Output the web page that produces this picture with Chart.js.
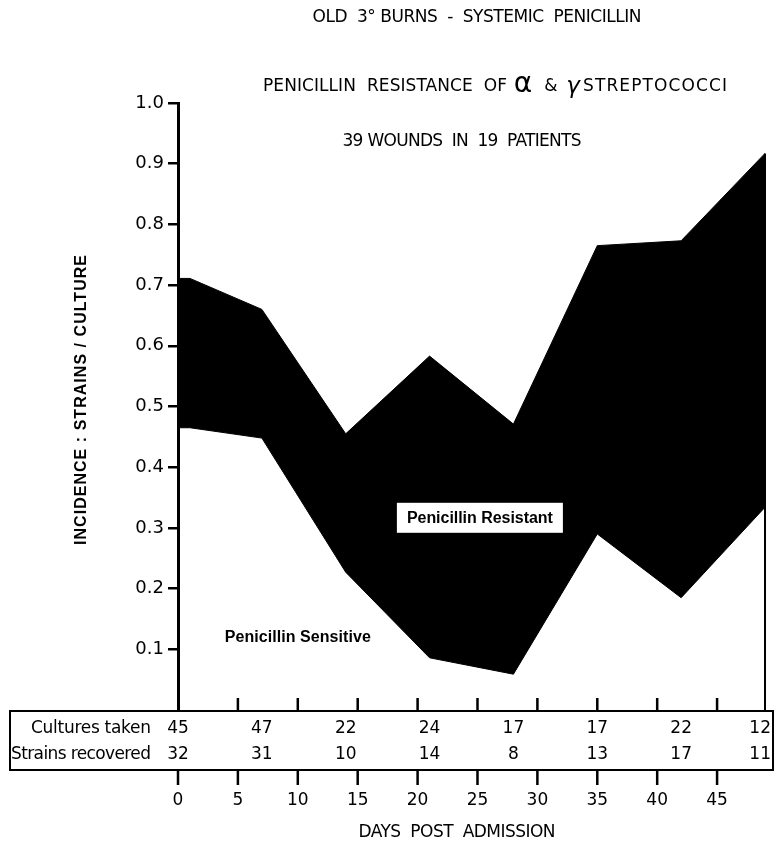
<!DOCTYPE html>
<html>
<head>
<meta charset="utf-8">
<script src="https://cdn.jsdelivr.net/npm/chart.js@4/dist/chart.umd.min.js"></script>
<style>
  html, body { margin: 0; padding: 0; background: #fff; }
  #wrap { width: 776px; height: 843px; position: relative; }
</style>
</head>
<body>
<div id="wrap"><canvas id="chart" width="776" height="843"></canvas></div>
<script>
// Days post admission at which the incidence curves are plotted
const days = [0, 1, 7, 14, 21, 28, 35, 42, 49];
// Upper edge: all strains recovered per culture
const totalIncidence = [0.711, 0.711, 0.660, 0.455, 0.583, 0.471, 0.765, 0.773, 0.917];
// Lower edge: penicillin-sensitive strains per culture
const sensitiveIncidence = [0.465, 0.465, 0.448, 0.227, 0.086, 0.059, 0.290, 0.185, 0.334];

// Table under the axis
const sampleDays = [0, 7, 14, 21, 28, 35, 42, 49];
const culturesTaken = [45, 47, 22, 24, 17, 17, 22, 12];
const strainsRecovered = [32, 31, 10, 14, 8, 13, 17, 11];

// Tick values
const dayTicks = [0, 5, 10, 15, 20, 25, 30, 35, 40, 45];
const incidenceTicks = [0.1, 0.2, 0.3, 0.4, 0.5, 0.6, 0.7, 0.8, 0.9, 1.0];

const SANS = '"Liberation Sans", Arial, sans-serif';
const LETTER = '"DejaVu Sans", sans-serif';

function spacedText(ctx, text, x, y, width, align) {
  // draw text stretched to a given width by letter spacing
  ctx.letterSpacing = '0px';
  const w = ctx.measureText(text).width;
  const n = Math.max(1, text.length - 1);
  let ls = width ? (width - w) / n : 0;
  ls = Math.max(-2, Math.min(5, ls));
  ctx.letterSpacing = ls + 'px';
  const total = w + ls * n;
  let sx = x;
  if (align === 'center') sx = x - total / 2;
  else if (align === 'right') sx = x - total;
  ctx.textAlign = 'left';
  ctx.fillText(text, sx, y);
  ctx.letterSpacing = '0px';
  return total;
}

function centeredGlyph(ctx, text, cx, y) {
  ctx.textAlign = 'center';
  ctx.fillText(text, cx, y);
}

const decorations = {
  id: 'decorations',
  afterDatasetsDraw(chart) {
    const ctx = chart.ctx;
    const xs = chart.scales.x, ys = chart.scales.y;
    ctx.save();
    ctx.fillStyle = '#000';
    ctx.strokeStyle = '#000';

    // right edge of the last sample, down to the axis
    const xr = xs.getPixelForValue(days[days.length - 1]);
    ctx.lineWidth = 2;
    ctx.beginPath();
    ctx.moveTo(xr, ys.getPixelForValue(totalIncidence[totalIncidence.length - 1]));
    ctx.lineTo(xr, ys.getPixelForValue(0) + 1);
    ctx.stroke();

    // table frame
    const y0 = ys.getPixelForValue(0);
    const boxTop = y0 + 1, boxBottom = boxTop + 59;
    const boxLeft = 10, boxRight = 773;
    ctx.lineWidth = 2;
    ctx.strokeRect(boxLeft, boxTop, boxRight - boxLeft, boxBottom - boxTop);

    // tick marks above and below the table
    ctx.lineWidth = 2.5;
    dayTicks.forEach(v => {
      const x = xs.getPixelForValue(v);
      ctx.beginPath();
      if (v > 0) { ctx.moveTo(x, boxTop - 13); ctx.lineTo(x, boxTop); }
      ctx.moveTo(x, boxBottom); ctx.lineTo(x, boxBottom + 15);
      ctx.stroke();
    });

    // table rows
    ctx.font = '17px ' + LETTER;
    ctx.textBaseline = 'middle';
    spacedText(ctx, 'Cultures taken', 151, boxTop + 18, 120, 'right');
    spacedText(ctx, 'Strains recovered', 151, boxTop + 44, 140, 'right');
    const last = sampleDays.length - 1;
    sampleDays.forEach((d, i) => {
      const x = xs.getPixelForValue(d);
      const align = i === last ? 'right' : 'center';
      const ax = i === last ? boxRight - 2 : x;
      spacedText(ctx, String(culturesTaken[i]), ax, boxTop + 18, 0, align);
      spacedText(ctx, String(strainsRecovered[i]), ax, boxTop + 44, 0, align);
    });

    // region labels
    const rx = xs.getPixelForValue(25.2), ry = ys.getPixelForValue(0.315);
    ctx.fillStyle = '#fff';
    ctx.fillRect(rx - 83, ry - 16, 166, 30);
    ctx.fillStyle = '#000';
    ctx.font = 'bold 16px ' + SANS;
    spacedText(ctx, 'Penicillin Resistant', rx, ry, 146, 'center');
    const sx = xs.getPixelForValue(10), sy = ys.getPixelForValue(0.12);
    spacedText(ctx, 'Penicillin Sensitive', sx, sy, 146, 'center');

    // titles
    ctx.font = '17px ' + LETTER;
    spacedText(ctx, 'OLD  3° BURNS  -  SYSTEMIC  PENICILLIN', 477, 18, 329, 'center');
    // second line with larger Greek letters
    const yl = 87;
    spacedText(ctx, 'PENICILLIN  RESISTANCE  OF', 263, yl, 244, 'left');
    ctx.font = '28px ' + LETTER;
    centeredGlyph(ctx, 'α', 523, yl - 2);
    ctx.font = '17px ' + LETTER;
    centeredGlyph(ctx, '&', 551, yl);
    ctx.font = 'italic 23px ' + LETTER;
    centeredGlyph(ctx, 'γ', 573, yl);
    ctx.font = '17px ' + LETTER;
    spacedText(ctx, 'STREPTOCOCCI', 583, yl, 144, 'left');
    spacedText(ctx, '39 WOUNDS  IN  19  PATIENTS', 462, 142, 239, 'center');

    // x-axis title
    spacedText(ctx, 'DAYS  POST  ADMISSION', 457, 833, 197, 'center');

    // y-axis title
    ctx.save();
    ctx.translate(82, 400);
    ctx.rotate(-Math.PI / 2);
    ctx.font = 'bold 16px ' + SANS;
    spacedText(ctx, 'INCIDENCE : STRAINS / CULTURE', 0, 0, 290, 'center');
    ctx.restore();

    ctx.restore();
  }
};

new Chart(document.getElementById('chart'), {
  type: 'line',
  data: {
    datasets: [
      {
        label: 'Penicillin resistant',
        data: days.map((d, i) => ({ x: d, y: totalIncidence[i] })),
        borderColor: '#000',
        backgroundColor: '#000',
        borderWidth: 1,
        pointRadius: 0,
        tension: 0,
        fill: '+1'
      },
      {
        label: 'Penicillin sensitive',
        data: days.map((d, i) => ({ x: d, y: sensitiveIncidence[i] })),
        borderColor: '#000',
        borderWidth: 1,
        pointRadius: 0,
        tension: 0,
        fill: false
      }
    ]
  },
  options: {
    responsive: false,
    animation: false,
    devicePixelRatio: 1,
    layout: { padding: { top: 103, right: 11, left: 0, bottom: 0 } },
    plugins: { legend: { display: false }, tooltip: { enabled: false } },
    scales: {
      x: {
        type: 'linear',
        min: 0,
        max: 49,
        afterBuildTicks: s => { s.ticks = dayTicks.map(v => ({ value: v })); },
        afterFit: s => { s.height = 133; s.paddingLeft = 0; s.paddingRight = 0; },
        grid: { display: false, drawTicks: false },
        border: { display: false },
        ticks: {
          color: '#000',
          font: { family: LETTER, size: 17 },
          padding: 80,
          maxRotation: 0,
          autoSkip: false
        }
      },
      y: {
        type: 'linear',
        min: 0,
        max: 1,
        afterBuildTicks: s => { s.ticks = incidenceTicks.map(v => ({ value: v })); },
        afterFit: s => { s.width = 178; s.paddingTop = 0; s.paddingBottom = 0; },
        border: { display: true, width: 3, color: '#000' },
        grid: { display: true, drawOnChartArea: false, drawTicks: true, tickLength: 10, lineWidth: 2.5, color: '#000' },
        ticks: {
          color: '#000',
          font: { family: LETTER, size: 18 },
          padding: 4,
          callback: v => Number(v).toFixed(1)
        }
      }
    }
  },
  plugins: [decorations]
});
</script>
</body>
</html>
